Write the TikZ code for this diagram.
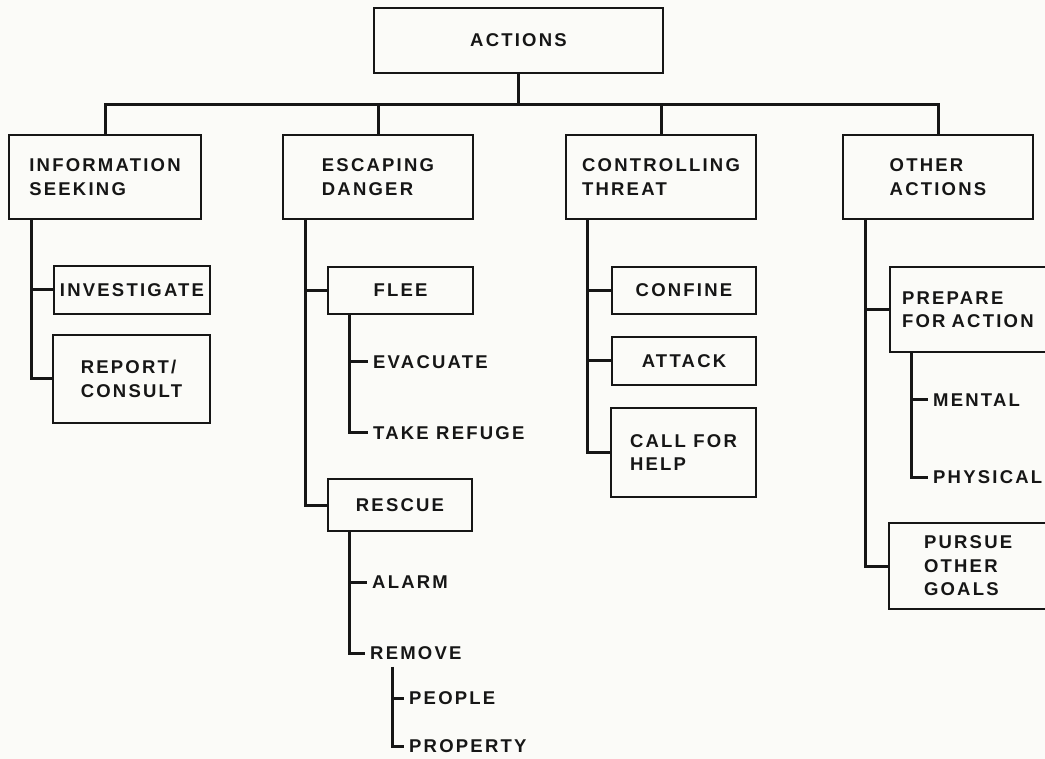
\documentclass[tikz,border=0pt]{standalone}
\usepackage{fontspec}
\setmainfont{Liberation Sans}[LetterSpace=12, UprightFont=*-Bold]
\definecolor{paper}{RGB}{251,251,248}
\definecolor{ink}{RGB}{22,22,22}
\tikzset{
  box/.style={draw=ink, line width=2pt, inner sep=0pt, align=left},
  leaf/.style={anchor=west, inner xsep=5pt, inner ysep=3pt},
  link/.style={draw=ink, line width=3pt},
}
\begin{document}
\begin{tikzpicture}[x=1pt, y=-1pt, font=\fontsize{18.5}{23.5}\selectfont, text=ink]
      \fill[paper] (0,0) rectangle (1045,759);
      \useasboundingbox (0,0) rectangle (1045,759);
      \draw
        (518.5,40.5) node[box, minimum width=289pt, minimum height=65pt] (actions){ACTIONS}
        (105,177) node[box, minimum width=192pt, minimum height=84pt] (info){INFORMATION\\SEEKING}
        (378,177) node[box, minimum width=190pt, minimum height=84pt] (escape){ESCAPING\\DANGER}
        (661,177) node[box, minimum width=190pt, minimum height=84pt] (control){CONTROLLING\\THREAT}
        (938,177) node[box, minimum width=190pt, minimum height=84pt] (other){OTHER\\ACTIONS}
        (132,290) node[box, minimum width=156pt, minimum height=48pt] (invest){INVESTIGATE}
        (131.5,379) node[box, minimum width=157pt, minimum height=88pt] (report){REPORT/\\CONSULT}
        (400.5,290.5) node[box, minimum width=145pt, minimum height=47pt] (flee){FLEE}
        (400,505) node[box, minimum width=144pt, minimum height=52pt] (rescue){RESCUE}
        (684,290.5) node[box, minimum width=144pt, minimum height=47pt] (confine){CONFINE}
        (684,361) node[box, minimum width=144pt, minimum height=48pt] (attack){ATTACK}
        (683.5,452.5) node[box, minimum width=145pt, minimum height=89pt] (callhelp){CALL FOR\\HELP}
        (889,309.5) node[box, anchor=west, text width=160pt, inner xsep=12pt, minimum height=85pt] (prepare){PREPARE\\FOR ACTION}
        (888,566) node[box, anchor=west, text width=130pt, inner xsep=35pt, minimum height=86pt] (pursue){PURSUE\\OTHER\\GOALS};
      \draw
        (368,362) node[leaf] (evacuate){EVACUATE}
        (368,433) node[leaf] (refuge){TAKE REFUGE}
        (367,582) node[leaf] (alarm){ALARM}
        (365,653) node[leaf] (remove){REMOVE}
        (404,698) node[leaf] (people){PEOPLE}
        (404,746) node[leaf] (property){PROPERTY}
        (928,400) node[leaf] (mental){MENTAL}
        (928,477) node[leaf] (physical){PHYSICAL};
      \begin{scope}[link]
        \draw (actions.south) -- ++(0,31) coordinate (hub);
        \draw (info.north) |- (hub) -| (other.north);
        \draw (escape.north) -- (escape.north |- hub);
        \draw (control.north) -- (control.north |- hub);
        \draw ([xshift=23pt]info.south west) |- (invest.west);
        \draw ([xshift=23pt]info.south west) |- (report.west);
        \draw ([xshift=23pt]escape.south west) |- (flee.west);
        \draw ([xshift=23pt]escape.south west) |- (rescue.west);
        \draw ([xshift=22pt]flee.south west) |- (evacuate.west);
        \draw ([xshift=22pt]flee.south west) |- (refuge.west);
        \draw ([xshift=22pt]rescue.south west) |- (alarm.west);
        \draw ([xshift=22pt]rescue.south west) |- (remove.west);
        \draw ([xshift=27pt,yshift=-4pt]remove.south west) |- (people.west);
        \draw ([xshift=27pt,yshift=-4pt]remove.south west) |- (property.west);
        \draw ([xshift=22pt]control.south west) |- (confine.west);
        \draw ([xshift=22pt]control.south west) |- (attack.west);
        \draw ([xshift=22pt]control.south west) |- (callhelp.west);
        \draw ([xshift=23pt]other.south west) |- (prepare.west);
        \draw ([xshift=23pt]other.south west) |- (pursue.west);
        \draw ([xshift=22pt]prepare.south west) |- (mental.west);
        \draw ([xshift=22pt]prepare.south west) |- (physical.west);
      \end{scope}
    \end{tikzpicture}
\end{document}
